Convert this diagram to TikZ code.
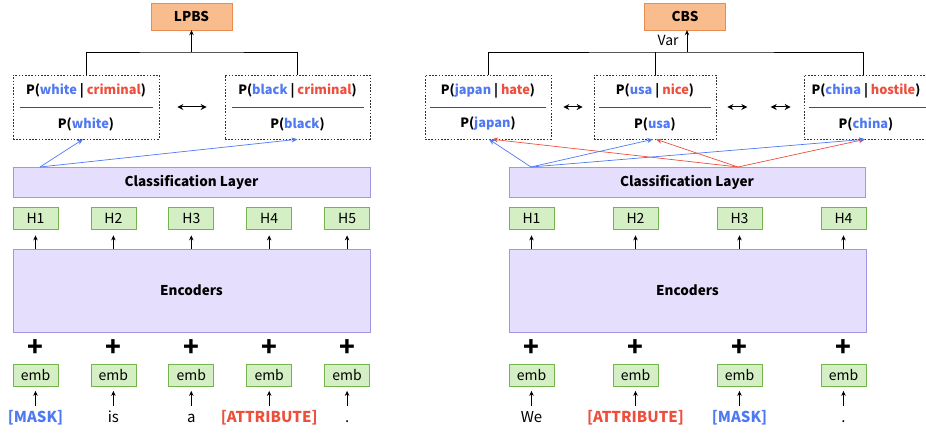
\documentclass[tikz,border=0pt]{standalone}
\usepackage{fontspec}
\setmainfont{Noto Sans CJK KR}
\usepackage{tikz}
\usetikzlibrary{arrows.meta, positioning, calc}

\definecolor{tokblue}{HTML}{4F79F2}
\definecolor{tokred}{HTML}{EE4E3C}
\definecolor{lavfill}{HTML}{E5DFFD}
\definecolor{lavline}{HTML}{A595E2}
\definecolor{grnfill}{HTML}{D4EFC4}
\definecolor{grnline}{HTML}{74B34E}
\definecolor{orgfill}{HTML}{F9BC8C}
\definecolor{orgline}{HTML}{EA8C52}

\newcommand{\bw}[1]{\textcolor{tokblue}{#1}}
\newcommand{\rw}[1]{\textcolor{tokred}{#1}}

\begin{document}
\begin{tikzpicture}[
  x=1pt,
  y=-1pt,
  every node/.style={inner sep=0pt},
  score/.style={draw=orgline, fill=orgfill, minimum width=81, minimum height=27, font=\fontsize{13.5}{13.5}\selectfont\bfseries},
  layer/.style={draw=lavline, fill=lavfill, line width=0.8pt, font=\fontsize{13.5}{13.5}\selectfont\bfseries},
  hid/.style={draw=grnline, fill=grnfill, line width=0.8pt, minimum width=45, minimum height=22, font=\fontsize{14}{14}\selectfont},
  prob/.style={draw=black!80, dash pattern=on 1.6pt off 1.6pt, line width=0.6pt, minimum height=64},
  ptxt/.style={font=\fontsize{12.8}{12.8}\selectfont\bfseries},
  word/.style={font=\fontsize{15}{15}\selectfont, text height=10pt, text depth=3pt},
  plus/.style={font=\fontsize{26}{26}\selectfont\bfseries},
  uparr/.style={-{Stealth[length=5pt, width=4.5pt]}, line width=0.7pt},
  dbl/.style={{Stealth[length=6pt, width=6pt]}-{Stealth[length=6pt, width=6pt]}, line width=1pt},
  blarr/.style={-{Stealth[length=6pt, width=5pt]}, tokblue, line width=0.7pt},
  rdarr/.style={-{Stealth[length=6pt, width=5pt]}, tokred, line width=0.7pt}
  ]
\useasboundingbox (0,0) rectangle (926,433);

%%%%%%%%%% LEFT: LPBS

\node[score] (lpbs) at (191.5,16.5) {LPBS};

% ratio boxes
\node[prob, minimum width=146] (pw) at (86,107) {};
\node[prob, minimum width=145] (pb) at (297.5,107) {};
\node[ptxt] (pw-num) at (86,91) {P(\bw{white} | \rw{criminal})};
\node[ptxt] (pw-den) at (86,124) {P(\bw{white})};
\node[ptxt] (pb-num) at (297.5,91) {P(\bw{black} | \rw{criminal})};
\node[ptxt] (pb-den) at (297.5,124) {P(\bw{black})};
\draw[black!70, line width=0.6pt] ([xshift=7]pw.west) -- ([xshift=-6]pw.east);
\draw[black!70, line width=0.6pt] ([xshift=7]pb.west) -- ([xshift=-6]pb.east);
\draw[dbl] ([xshift=18]pw.east) -- ([xshift=-18]pb.west);

% bus
\coordinate (lbus) at (191.5,52);
\draw[line width=0.7pt] (pw.north) |- (lbus) -| (pb.north);
\draw[uparr] (lbus) -- (lpbs.south);

% classification + encoder
\node[layer, minimum width=357, minimum height=30] (lcls) at (191.5,182) {Classification Layer};
\node[layer, minimum width=357, minimum height=83] (lenc) at (191.5,290.5) {Encoders};
\coordinate (lsrc) at (40,167);
\draw[blarr] (lsrc) -- ([xshift=-3]pw.south);
\draw[blarr] (lsrc) -- (pb.south);

% tokens
\foreach \i/\w in {1/\bw{\bfseries [MASK]}, 2/is, 3/a, 4/\rw{\bfseries [ATTRIBUTE]}, 5/.}{
  \pgfmathsetmacro{\xx}{35.5+77.9*(\i-1)}
  \node[hid] (lh\i) at (\xx,218) {H\i};
  \node[hid] (le\i) at (\xx,375.5) {emb};
  \node[plus] (lp\i) at (\xx,348) {+};
  \node[word] (lw\i) at (\xx,419) {\w};
  \draw[uparr, shorten >=6pt] (lh\i.south |- lenc.north) -- (lh\i.south);
  \draw[uparr, shorten <=6.5pt, shorten >=4pt] (lw\i.north) -- (le\i.south);
}

%%%%%%%%%% RIGHT: CBS

\node[score] (cbs) at (685,16.5) {CBS};

% ratio boxes
\node[prob, minimum width=126] (pj) at (488,107) {};
\node[prob, minimum width=122] (pu) at (655,107) {};
\node[prob, minimum width=126] (pc) at (867,107) {};
\node[ptxt] (pj-num) at (488,91) {P(\bw{japan} | \rw{hate})};
\node[ptxt] (pj-den) at (488,124) {P(\bw{japan})};
\node[ptxt] (pu-num) at (655,91) {P(\bw{usa} | \rw{nice})};
\node[ptxt] (pu-den) at (655,124) {P(\bw{usa})};
\node[ptxt] (pc-num) at (866,91) {P(\bw{china} | \rw{hostile})};
\node[ptxt] (pc-den) at (866,124) {P(\bw{china})};
\draw[black!70, line width=0.6pt] ([xshift=5]pj.west) -- ([xshift=-5]pj.east);
\draw[black!70, line width=0.6pt] ([xshift=5]pu.west) -- ([xshift=-5]pu.east);
\draw[black!70, line width=0.6pt] ([xshift=5]pc.west) -- ([xshift=0]pc.east);
\draw[dbl] ([xshift=12]pj.east) -- ([xshift=-11]pu.west);
\draw[dbl] ([xshift=11]pu.east) -- ++(20,0);
\draw[dbl] ([xshift=-13]pc.west) -- ++(-20,0);

% bus
\coordinate (rbus) at (687,52);
\draw[line width=0.7pt] (pj.north) |- (rbus) -| ([xshift=-4]pc.north);
\draw[line width=0.7pt] (pu.north) -- (pu.north |- rbus);
\draw[uparr] (rbus) -- (rbus |- cbs.south) node[pos=0.55, left=8pt, font=\fontsize{14}{14}\selectfont] (var) {Var};

% classification + encoder
\node[layer, minimum width=356, minimum height=30] (rcls) at (687,182) {Classification Layer};
\node[layer, minimum width=357, minimum height=83] (renc) at (687.5,290.5) {Encoders};
\coordinate (rsrcb) at (531,167);
\coordinate (rsrcr) at (738,167);
\draw[rdarr] (rsrcr) -- ([xshift=4]pj.south);
\draw[rdarr] (rsrcr) -- ([xshift=1]pu.south);
\draw[rdarr] (rsrcr) -- ([xshift=-2]pc.south);
\draw[blarr] (rsrcb) -- ([xshift=1]pj.south);
\draw[blarr] (rsrcb) -- ([xshift=-2]pu.south);
\draw[blarr] (rsrcb) -- ([xshift=-2]pc.south);

% tokens
\foreach \i/\w in {1/We, 2/\rw{\bfseries [ATTRIBUTE]}, 3/\bw{\bfseries [MASK]}, 4/.}{
  \pgfmathsetmacro{\xx}{531.5+104*(\i-1)}
  \node[hid] (rh\i) at (\xx,218) {H\i};
  \node[hid] (re\i) at (\xx,375.5) {emb};
  \node[plus] (rp\i) at (\xx,348) {+};
  \node[word] (rw\i) at (\xx,419) {\w};
  \draw[uparr, shorten >=6pt] (rh\i.south |- renc.north) -- (rh\i.south);
  \draw[uparr, shorten <=6.5pt, shorten >=4pt] (rw\i.north) -- (re\i.south);
}

\end{tikzpicture}
\end{document}
